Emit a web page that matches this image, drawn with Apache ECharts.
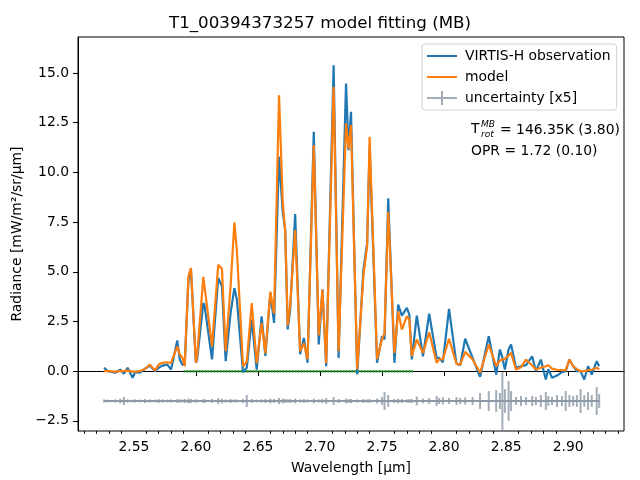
<!DOCTYPE html>
<html>
<head>
<meta charset="utf-8">
<script src="https://cdn.jsdelivr.net/npm/echarts@6/dist/echarts.min.js"></script>
<style>
  html, body { margin: 0; padding: 0; background: #fff; }
  #chart { width: 640px; height: 480px; }
</style>
</head>
<body>
<div id="chart"></div>
<script>
// spectrum (wavelength in micron, radiance in mW/m2/sr/um)
const wavelength = [
  2.526, 2.529, 2.535, 2.539, 2.542, 2.545, 2.549, 2.551, 2.555, 2.559,
  2.563, 2.567, 2.570, 2.573, 2.577, 2.580, 2.585, 2.587, 2.589, 2.591,
  2.594, 2.596, 2.600, 2.601, 2.606, 2.607, 2.613, 2.618, 2.621, 2.624,
  2.628, 2.631, 2.633, 2.638, 2.641, 2.645, 2.649, 2.653, 2.656, 2.660,
  2.663, 2.667, 2.670, 2.672, 2.674, 2.676, 2.680, 2.684, 2.687, 2.690,
  2.695, 2.699, 2.702, 2.705, 2.711, 2.715, 2.721, 2.723, 2.725, 2.730,
  2.735, 2.738, 2.740, 2.746, 2.750, 2.752, 2.755, 2.760, 2.763, 2.766,
  2.770, 2.772, 2.774, 2.778, 2.783, 2.788, 2.794, 2.796, 2.799, 2.804,
  2.810, 2.813, 2.817, 2.823, 2.829, 2.836, 2.842, 2.845, 2.847, 2.849,
  2.852, 2.854, 2.858, 2.862, 2.866, 2.871, 2.874, 2.878, 2.882, 2.884,
  2.887, 2.891, 2.895, 2.898, 2.901, 2.904, 2.907, 2.910, 2.913, 2.916,
  2.919, 2.923, 2.925
]
const observation = [
  0.17, 0.00, -0.08, 0.08, -0.13, 0.17, -0.33, -0.05, -0.08, 0.12,
  0.28, 0.00, 0.17, 0.28, 0.33, 0.08, 1.54, 0.59, 0.33, 0.33,
  4.60, 5.10, 0.42, 0.59, 3.43, 3.30, 0.59, 4.69, 4.27, 0.50,
  2.93, 4.18, 3.60, -0.05, 0.17, 2.60, 0.08, 2.76, 0.77, 3.93,
  2.43, 10.79, 8.00, 7.10, 2.10, 3.09, 7.90, 0.85, 1.67, 0.42,
  12.04, 1.34, 4.10, 0.25, 15.39, 0.67, 14.47, 11.12, 13.05, -0.17,
  5.10, 6.44, 11.29, 0.42, 1.75, 1.60, 8.70, 0.42, 3.35, 2.79,
  3.18, 2.84, 0.59, 2.79, 0.75, 2.89, 0.67, 0.67, 0.45, 3.13,
  0.37, 0.30, 1.63, 0.67, -0.28, 1.76, -0.17, 1.09, 0.67, 0.08,
  1.09, 1.34, 0.17, 0.25, 0.30, 0.75, 0.00, 0.58, -0.42, 0.10,
  -0.33, -0.22, -0.05, 0.00, 0.58, 0.25, 0.00, 0.00, -0.42, 0.25,
  -0.17, 0.50, 0.25
]
const model = [
  0.00, 0.00, -0.02, 0.00, 0.00, 0.03, -0.02, -0.02, 0.00, 0.12,
  0.33, 0.03, 0.33, 0.42, 0.45, 0.42, 1.25, 0.84, 0.70, 0.25,
  4.77, 5.19, 0.42, 0.76, 4.74, 4.74, 1.25, 5.35, 5.15, 1.00,
  4.30, 7.48, 6.10, 0.25, 0.47, 3.43, 0.40, 2.43, 0.90, 4.00,
  2.90, 13.88, 8.50, 7.00, 2.30, 3.30, 7.10, 1.00, 1.40, 0.60,
  11.37, 1.80, 4.10, 0.40, 14.30, 1.00, 12.46, 11.20, 12.38, 0.10,
  4.80, 6.30, 11.79, 0.60, 1.60, 1.90, 8.02, 0.92, 3.01, 2.09,
  2.76, 2.60, 0.75, 1.59, 0.92, 1.96, 0.42, 0.59, 0.59, 1.63,
  0.37, 0.33, 0.97, 0.59, -0.08, 1.34, 0.25, 0.54, 0.58, 0.62,
  0.79, 0.92, 0.08, 0.20, 0.58, 0.30, 0.08, 0.17, 0.25, 0.30,
  0.13, 0.07, 0.05, 0.05, 0.58, 0.25, 0.10, 0.00, 0.00, 0.05,
  0.07, 0.17, 0.10
]
// half height of the error bars, already multiplied by 5
const uncertainty = [
  0.08, 0.07, 0.08, 0.12, 0.20, 0.08, 0.07, 0.08, 0.07, 0.10,
  0.08, 0.07, 0.10, 0.08, 0.07, 0.08, 0.10, 0.08, 0.07, 0.10,
  0.12, 0.10, 0.08, 0.07, 0.10, 0.08, 0.10, 0.15, 0.12, 0.08,
  0.10, 0.08, 0.07, 0.10, 0.30, 0.10, 0.07, 0.08, 0.10, 0.12,
  0.10, 0.15, 0.12, 0.10, 0.08, 0.10, 0.12, 0.08, 0.10, 0.08,
  0.12, 0.08, 0.10, 0.15, 0.20, 0.10, 0.12, 0.10, 0.10, 0.08,
  0.10, 0.08, 0.10, 0.12, 0.20, 0.45, 0.30, 0.10, 0.12, 0.10,
  0.08, 0.10, 0.10, 0.22, 0.12, 0.15, 0.25, 0.15, 0.18, 0.15,
  0.20, 0.15, 0.18, 0.20, 0.40, 0.50, 0.55, 0.40, 1.45, 0.60,
  1.00, 0.50, 0.20, 0.25, 0.20, 0.25, 0.20, 0.30, 0.45, 0.25,
  0.20, 0.30, 0.25, 0.50, 0.30, 0.25, 0.30, 0.60, 0.30, 0.45,
  0.30, 0.70, 0.35
]
const uncertaintyOffset = -1.5
const fitRange = [2.590, 2.775]

const xMajorTicks = [2.55, 2.60, 2.65, 2.70, 2.75, 2.80, 2.85, 2.90]
const xMinorTicks = [2.51, 2.52, 2.53, 2.54, 2.56, 2.57, 2.58, 2.59, 2.61, 2.62, 2.63, 2.64,
  2.66, 2.67, 2.68, 2.69, 2.71, 2.72, 2.73, 2.74, 2.76, 2.77, 2.78, 2.79,
  2.81, 2.82, 2.83, 2.84, 2.86, 2.87, 2.88, 2.89, 2.91, 2.92, 2.93, 2.94]
const yTicks = [-2.5, 0, 2.5, 5, 7.5, 10, 12.5, 15]

const FONT = 'DejaVu Sans'
const LINE_ICON = 'path://M0,6h30v2h-30z'
const CROSS_ICON = 'path://M0,6h30v2h-30z M14,0h2v14h-2z'
const chart = echarts.init(document.getElementById('chart'))

const obsData = wavelength.map((w, i) => [w, observation[i]])
const modelData = wavelength.map((w, i) => [w, model[i]])
const errData = wavelength.map((w, i) => [w, uncertaintyOffset, uncertainty[i]])
const baseData = wavelength.map(w => [w, uncertaintyOffset])
const fitData = fitRange.map(w => [w, 0])

const xBase = {
  type: 'value', min: 2.505, max: 2.945, gridIndex: 0, position: 'bottom',
  splitLine: { show: false }
}

function txt(x, y, text, font) {
  return { type: 'text', x: x, y: y, style: { text: text, font: font, fill: '#000', verticalAlign: 'middle', align: 'left' } }
}

chart.setOption({
  animation: false,
  textStyle: { fontFamily: FONT },
  title: {
    text: 'T1_00394373257 model fitting (MB)',
    left: 'center', top: 10,
    textStyle: { fontFamily: FONT, fontSize: 16.7, fontWeight: 'normal', color: '#000' }
  },
  grid: {
    left: 78, top: 37, width: 546, height: 395,
    show: true, borderColor: '#000', borderWidth: 1, backgroundColor: 'transparent'
  },
  legend: {
    orient: 'vertical', left: 422, top: 44,
    padding: [5, 6, 5, 5], itemGap: 7, itemWidth: 30, itemHeight: 14,
    backgroundColor: 'rgba(255,255,255,0.8)', borderColor: '#d0d0d0', borderWidth: 1, borderRadius: 3,
    textStyle: { fontFamily: FONT, fontSize: 13.9, color: '#000', padding: [0, 0, 0, 3] },
    data: [
      { name: 'VIRTIS-H observation', icon: LINE_ICON, itemStyle: { color: '#1f77b4' } },
      { name: 'model', icon: LINE_ICON, itemStyle: { color: '#ff7f0e' } },
      { name: 'uncertainty [x5]', icon: CROSS_ICON, itemStyle: { color: '#a3adb8' } }
    ]
  },
  xAxis: [
    Object.assign({}, xBase, {
      name: 'Wavelength [μm]', nameLocation: 'middle', nameGap: 30,
      nameTextStyle: { fontFamily: FONT, fontSize: 13.9, color: '#000' },
      axisLine: { show: true, lineStyle: { color: '#000', width: 1 } },
      axisTick: { show: true, length: 4.9, customValues: xMajorTicks, lineStyle: { color: '#000' } },
      axisLabel: { customValues: xMajorTicks, margin: 9, fontFamily: FONT, fontSize: 13.9, color: '#000',
        formatter: v => v.toFixed(2) }
    }),
    Object.assign({}, xBase, {
      axisLine: { show: false },
      axisTick: { show: true, length: 2.8, customValues: xMinorTicks, lineStyle: { color: '#000' } },
      axisLabel: { show: false }
    })
  ],
  yAxis: {
    type: 'value', min: -3.01, max: 16.81,
    name: 'Radiance [mW/m²/sr/μm]', nameLocation: 'middle', nameGap: 52, nameRotate: 90,
    nameTextStyle: { fontFamily: FONT, fontSize: 13.9, color: '#000' },
    splitLine: { show: false },
    axisLine: { show: true, lineStyle: { color: '#000', width: 1 } },
    axisTick: { show: true, length: 4.9, customValues: yTicks, lineStyle: { color: '#000' } },
    axisLabel: { customValues: yTicks, margin: 9, fontFamily: FONT, fontSize: 13.9, color: '#000',
      formatter: v => v.toFixed(1).replace('-', '−') }
  },
  series: [
    {
      name: 'uncertainty [x5]', type: 'custom', data: errData, z: 1,
      encode: { x: 0, y: 1 },
      renderItem: (params, api) => {
        const w = api.value(0), c = api.value(1), e = api.value(2)
        const p1 = api.coord([w, c - e])
        const p2 = api.coord([w, c + e])
        return {
          type: 'line',
          shape: { x1: p1[0], y1: p1[1], x2: p2[0], y2: p2[1] },
          style: { stroke: '#a3adb8', lineWidth: 2 }
        }
      }
    },
    {
      name: 'uncertainty line', type: 'line', data: baseData, symbol: 'none', z: 2,
      lineStyle: { color: '#8d99a6', width: 2 }
    },
    {
      name: 'fit range', type: 'line', data: fitData, symbol: 'none', z: 3,
      lineStyle: { color: '#2a962a', width: 2.5, type: [2, 1] }
    },
    {
      name: 'VIRTIS-H observation', type: 'line', data: obsData, symbol: 'none', z: 4,
      color: '#1f77b4', lineStyle: { color: '#1f77b4', width: 2.2 }
    },
    {
      name: 'model', type: 'line', data: modelData, symbol: 'none', z: 5,
      color: '#ff7f0e', lineStyle: { color: '#ff7f0e', width: 2.2 }
    }
  ],
  graphic: [
    txt(471, 129, 'T', '13.9px "DejaVu Sans"'),
    txt(481, 125, 'MB', 'italic 9px "DejaVu Sans"'),
    txt(481, 134.5, 'rot', 'italic 9px "DejaVu Sans"'),
    txt(500, 130, '= 146.35K (3.80)', '13.9px "DejaVu Sans"'),
    txt(471, 151, 'OPR = 1.72 (0.10)', '13.9px "DejaVu Sans"')
  ]
})
</script>
</body>
</html>
